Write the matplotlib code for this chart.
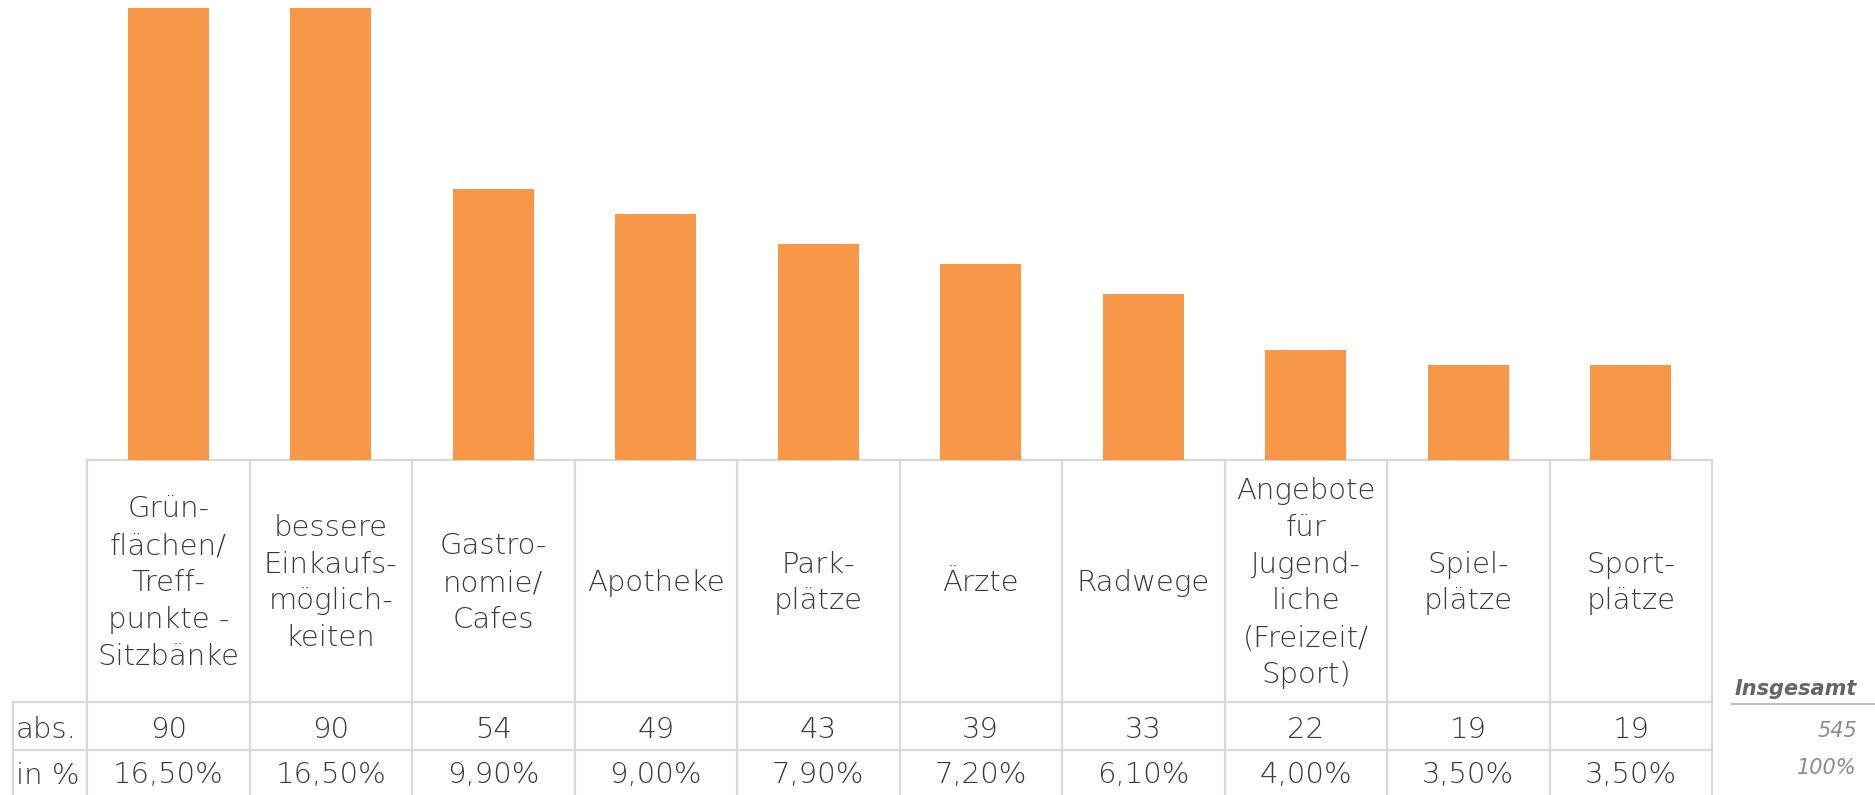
import matplotlib
matplotlib.use("Agg")
import matplotlib.pyplot as plt

# ---------------------------------------------------------------------
# Data
# ---------------------------------------------------------------------
categories = [
    "Grün-\nflächen/\nTreff-\npunkte -\nSitzbänke",
    "bessere\nEinkaufs-\nmöglich-\nkeiten",
    "Gastro-\nnomie/\nCafes",
    "Apotheke",
    "Park-\nplätze",
    "Ärzte",
    "Radwege",
    "Angebote\nfür\nJugend-\nliche\n(Freizeit/\nSport)",
    "Spiel-\nplätze",
    "Sport-\nplätze",
]
abs_values = [90, 90, 54, 49, 43, 39, 33, 22, 19, 19]
pct_labels = ["16,50%", "16,50%", "9,90%", "9,00%", "7,90%",
              "7,20%", "6,10%", "4,00%", "3,50%", "3,50%"]
row_labels = ["abs.", "in %"]
total_label = "Insgesamt"
total_abs = "545"
total_pct = "100%"

# ---------------------------------------------------------------------
W, H, DPI = 1875, 795, 100
BAR = "#f79849"
GRID = "#d9d9d9"
TXT = "#3a3a3a"
FONT = "DejaVu Sans"
FS = 21

# table geometry (pixels)
x0, pitch, n = 87, 162.5, len(categories)
x1 = x0 + pitch * n
lab_x = 13
y_top, y_hdr, y_abs, y_bot = 460, 702, 750, 800

fig = plt.figure(figsize=(W / DPI, H / DPI), dpi=DPI)

# pixel-space overlay for the table
tab = fig.add_axes([0, 0, 1, 1])
tab.set_xlim(0, W); tab.set_ylim(H, 0); tab.axis("off")

lw = 1.6
tab.plot([x0, x1], [y_top, y_top], color=GRID, lw=lw)
for y in (y_hdr, y_abs):
    tab.plot([lab_x, x1], [y, y], color=GRID, lw=lw)
tab.plot([lab_x, lab_x], [y_hdr, y_bot], color=GRID, lw=lw)
for i in range(n + 1):
    xx = x0 + pitch * i
    tab.plot([xx, xx], [y_top, y_bot], color=GRID, lw=lw)

cell = dict(ha="center", va="center", fontsize=FS, color=TXT,
            family=FONT, fontweight="light")
y_abs_txt = (y_hdr + y_abs) / 2 + 4
y_pct_txt = (y_abs + 795) / 2 + 3
for i, (cat, a, p) in enumerate(zip(categories, abs_values, pct_labels)):
    cx = x0 + pitch * (i + 0.5)
    tab.text(cx, (y_top + y_hdr) / 2 + 2, cat, linespacing=1.4, **cell)
    tab.text(cx, y_abs_txt, str(a), **cell)
    tab.text(cx, y_pct_txt, p, **cell)

lab = dict(cell, ha="left")
tab.text(lab_x + 3, y_abs_txt, row_labels[0], **lab)
tab.text(lab_x + 3, y_pct_txt, row_labels[1], **lab)

# totals column
tab.text(1857, 689, total_label, ha="right", va="center", fontsize=15,
         color="#666666", family=FONT, fontweight="bold", style="italic")
tab.plot([1732, W], [704, 704], color="#bfbfbf", lw=1.5)
tab.text(1857, 731, total_abs, ha="right", va="center", fontsize=15,
         color="#8c8c8c", family=FONT, fontweight="light", style="italic")
tab.text(1857, 768, total_pct, ha="right", va="center", fontsize=15,
         color="#8c8c8c", family=FONT, fontweight="light", style="italic")

# bar axes aligned with the table columns
ax = fig.add_axes([x0 / W, 1 - y_top / H, (x1 - x0) / W, (y_top - 8) / H])
ax.bar(range(n), abs_values, width=0.5, color=BAR)
ax.set_xlim(-0.5, n - 0.5)
ax.set_ylim(0, max(abs_values))
ax.axis("off")

fig.savefig("out.png", dpi=DPI)
